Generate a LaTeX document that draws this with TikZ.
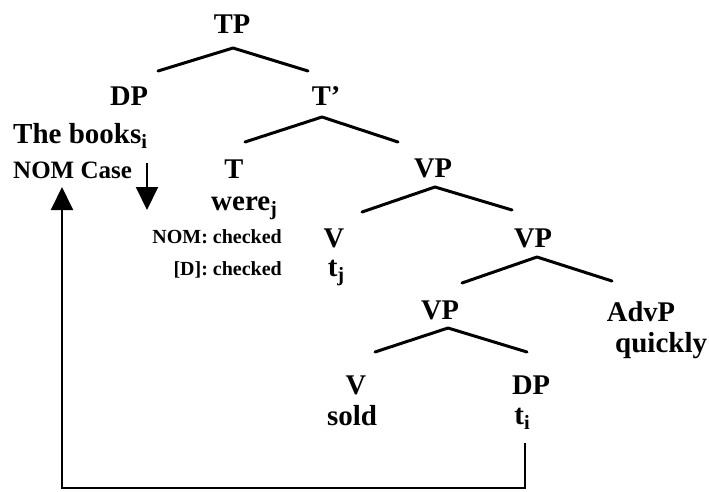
\documentclass[tikz,border=0pt]{standalone}
\usepackage{fontspec}
\setmainfont{Liberation Serif}
\usetikzlibrary{arrows.meta}
\newcommand{\lowidx}[1]{\raisebox{-0.2em}{\scalebox{0.7}{#1}}}
\begin{document}
\begin{tikzpicture}[x=1pt,y=-1pt,
  cat/.style={anchor=base,inner sep=0pt,font=\bfseries\fontsize{28.5}{32}\selectfont},
  word/.style={anchor=base,inner sep=0pt,font=\bfseries\fontsize{29}{32}\selectfont},
  note/.style={inner sep=0pt,font=\bfseries\fontsize{20}{22}\selectfont},
  branch/.style={line width=3pt,line cap=round,line join=round},
  move/.style={line width=2pt,-{Triangle[width=22pt,length=23pt]}}]
\useasboundingbox (0,0) rectangle (709,491);

% tree labels
\node[cat] (tp)   at (232,33)  {TP};
\node[cat] (dp1)  at (129,105) {DP};
\node[cat] (tbar) at (326,105) {T'};
\node[word,anchor=base west] (books) at (13,143) {The books\lowidx{i}};
\node[note,anchor=base west,font=\bfseries\fontsize{25}{28}\selectfont] (case) at (13,178) {NOM Case};
\node[cat] (t)    at (234,178) {T};
\node[cat] (vp1)  at (433,177) {VP};
\node[word,anchor=base west] (were) at (211,210) {were\lowidx{j}};
\node[note,anchor=base east] (nom) at (282,243) {NOM: checked};
\node[note,anchor=base east] (dfeat) at (282,275) {[D]: checked};
\node[cat] (v1)   at (334,247) {V};
\node[cat] (vp2)  at (533,247) {VP};
\node[word] (tj)  at (336,276) {t\lowidx{j}};
\node[cat] (vp3)  at (440,319) {VP};
\node[cat] (advp) at (641,321) {AdvP};
\node[word,anchor=base west] (quickly) at (615,352) {quickly};
\node[cat] (v2)   at (356,394) {V};
\node[cat] (dp2)  at (531,394) {DP};
\node[word] (sold) at (352,425) {sold};
\node[word] (ti)  at (522,424) {t\lowidx{i}};

% branch points
\coordinate (tpA) at (233,48);  \coordinate (tpL) at (158,71);  \coordinate (tpR) at (308,71);
\coordinate (tbA) at (322,117); \coordinate (tbL) at (245,142); \coordinate (tbR) at (398,142);
\coordinate (v1A) at (435,187); \coordinate (v1L) at (362,212); \coordinate (v1R) at (512,210);
\coordinate (v2A) at (537,257); \coordinate (v2L) at (462,283); \coordinate (v2R) at (612,281);
\coordinate (v3A) at (448,328); \coordinate (v3L) at (375,352); \coordinate (v3R) at (527,352);

\draw[branch] (tpL) -- (tpA) -- (tpR);
\draw[branch] (tbL) -- (tbA) -- (tbR);
\draw[branch] (v1L) -- (v1A) -- (v1R);
\draw[branch] (v2L) -- (v2A) -- (v2R);
\draw[branch] (v3L) -- (v3A) -- (v3R);

% feature checking arrow
\coordinate (chkS) at (147,163);
\coordinate (chkE) at (147,210);
\draw[move] (chkS) -- (chkE);

% movement of the object trace
\coordinate (trS) at (525,443);
\coordinate (trB) at (525,488);
\coordinate (trL) at (62,488);
\coordinate (trE) at (62,187);
\draw[move,line join=miter] (trS) -- (trB) -- (trL) -- (trE);
\end{tikzpicture}
\end{document}
